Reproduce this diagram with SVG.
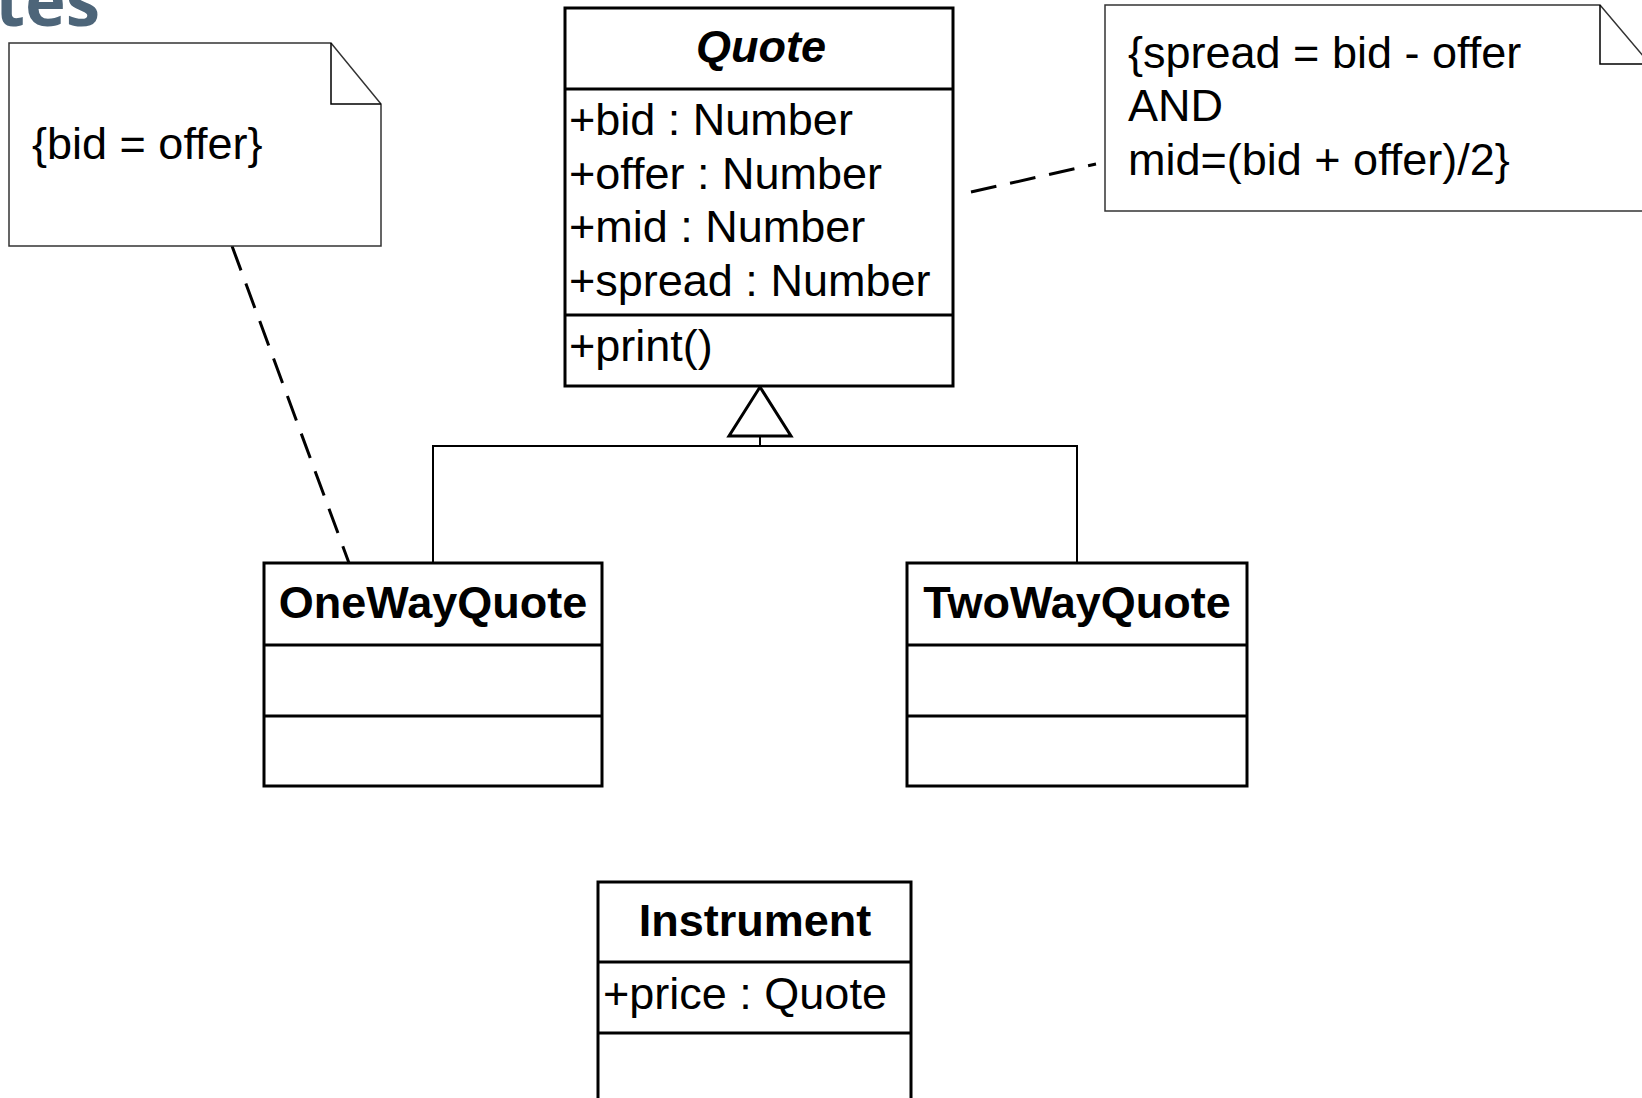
<svg xmlns="http://www.w3.org/2000/svg" width="1642" height="1098" viewBox="0 0 1642 1098">
<style>
  .box { fill: #ffffff; stroke: #000000; stroke-width: 3; }
  .div { stroke: #000000; stroke-width: 3; fill: none; }
  .note { fill: #ffffff; stroke: #333333; stroke-width: 1.5; }
  .fold { fill: none; stroke: #000000; stroke-width: 1.5; }
  .t { font-family: "Liberation Sans", Arial, sans-serif; font-size: 45px; fill: #000000; }
  .title { font-family: "Liberation Sans", Arial, sans-serif; font-size: 45px; font-weight: bold; fill: #000000; text-anchor: middle; }
  .dash { fill: none; stroke: #000000; stroke-width: 3; stroke-dasharray: 26 14; }
  .gen { fill: none; stroke: #000000; stroke-width: 2; }
</style>
<rect width="1642" height="1098" fill="#ffffff"/>
<text x="100" y="26" text-anchor="end" font-family="'Open Sans', sans-serif" font-weight="bold" font-size="69" fill="#4d6579">tes</text>

<g id="connectors">
  <line class="dash" x1="232" y1="246" x2="349" y2="563"/>
  <line class="dash" x1="971" y1="192" x2="1096" y2="164"/>
  <path class="gen" d="M433,563 V446 H1077 V563"/>
  <path class="gen" d="M760,446 V436"/>
  <polygon points="760,387 729,436 791,436" fill="#ffffff" stroke="#000000" stroke-width="3" stroke-linejoin="miter"/>
</g>

<g id="note-bid-offer">
  <path class="note" d="M9,43 H331 L381,104 V246 H9 Z"/>
  <path class="fold" d="M331,43 V104 H381"/>
  <text class="t" x="32" y="159">{bid = offer}</text>
</g>

<g id="note-spread">
  <path class="note" d="M1105,5 H1600 L1650,64 V211 H1105 Z"/>
  <path class="fold" d="M1600,5 V64 H1650"/>
  <text class="t" x="1128" y="68">{spread = bid - offer</text>
  <text class="t" x="1128" y="121">AND</text>
  <text class="t" x="1128" y="175">mid=(bid + offer)/2}</text>
</g>

<g id="Quote">
  <rect class="box" x="565" y="8" width="388" height="378"/>
  <line class="div" x1="565" y1="89" x2="953" y2="89"/>
  <line class="div" x1="565" y1="315" x2="953" y2="315"/>
  <text class="title" x="761" y="62" font-style="italic">Quote</text>
  <text class="t" x="569" y="135">+bid : Number</text>
  <text class="t" x="569" y="188.5">+offer : Number</text>
  <text class="t" x="569" y="242">+mid : Number</text>
  <text class="t" x="569" y="295.5">+spread : Number</text>
  <text class="t" x="569" y="361">+print()</text>
</g>

<g id="OneWayQuote">
  <rect class="box" x="264" y="563" width="338" height="223"/>
  <line class="div" x1="264" y1="645" x2="602" y2="645"/>
  <line class="div" x1="264" y1="716" x2="602" y2="716"/>
  <text class="title" x="433" y="618">OneWayQuote</text>
</g>

<g id="TwoWayQuote">
  <rect class="box" x="907" y="563" width="340" height="223"/>
  <line class="div" x1="907" y1="645" x2="1247" y2="645"/>
  <line class="div" x1="907" y1="716" x2="1247" y2="716"/>
  <text class="title" x="1077" y="618">TwoWayQuote</text>
</g>

<g id="Instrument">
  <rect class="box" x="598" y="882" width="313" height="240"/>
  <line class="div" x1="598" y1="962" x2="911" y2="962"/>
  <line class="div" x1="598" y1="1033" x2="911" y2="1033"/>
  <text class="title" x="755" y="936">Instrument</text>
  <text class="t" x="603" y="1009">+price : Quote</text>
</g>
</svg>
